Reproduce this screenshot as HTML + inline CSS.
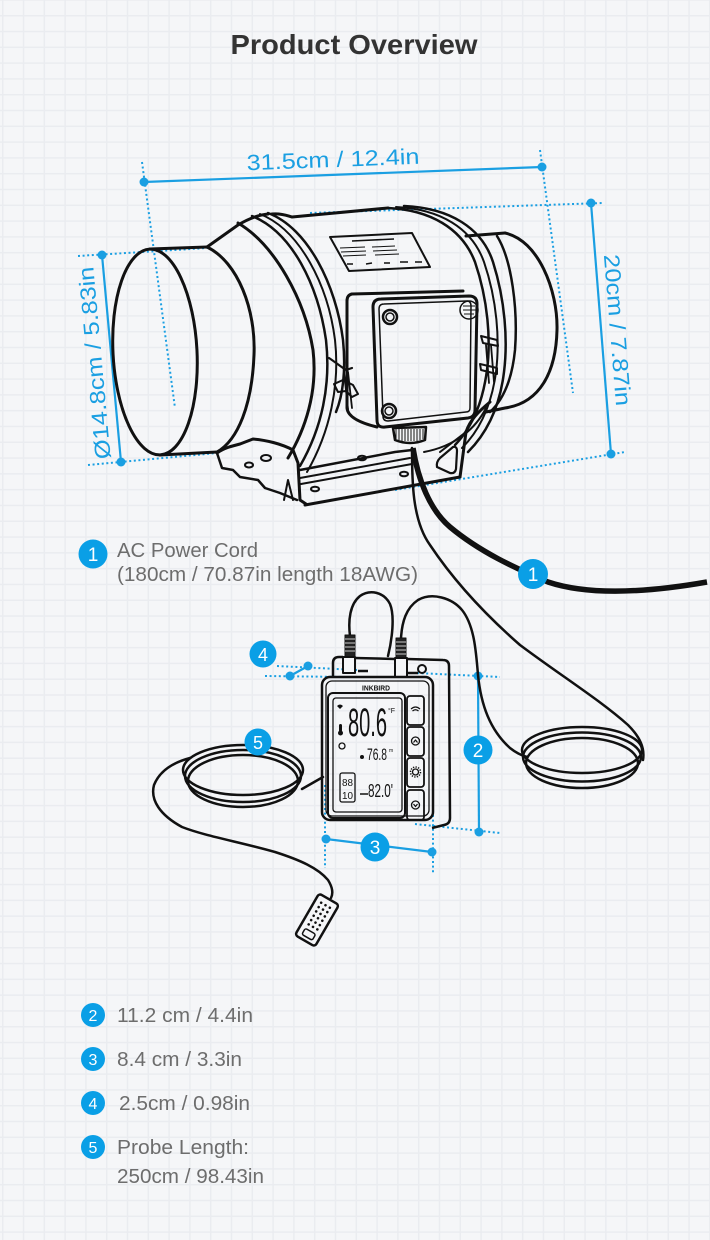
<!DOCTYPE html>
<html><head><meta charset="utf-8">
<style>
html,body{margin:0;padding:0;}
body{width:710px;height:1240px;overflow:hidden;position:relative;background-color:#f5f6f8;
background-image:linear-gradient(to right,#eaecf0 1.5px,transparent 1.5px),linear-gradient(to bottom,#eaecf0 1.5px,transparent 1.5px);
background-size:20.8px 15.8px;background-position:2px 15px;}
svg{position:absolute;left:0;top:0;}
</style></head><body>
<svg width="710" height="1240" viewBox="0 0 710 1240" xmlns="http://www.w3.org/2000/svg" font-family="'Liberation Sans', sans-serif">

<!-- Title -->
<text x="354" y="54" font-size="28" font-weight="bold" fill="#333" text-anchor="middle" textLength="247" lengthAdjust="spacingAndGlyphs">Product Overview</text>

<!-- ===== Fan dimension lines ===== -->
<g stroke="#1a9fe2" stroke-width="2" fill="none" stroke-dasharray="2 2.6">
  <path d="M142,162 L175,408"/>
  <path d="M540,150 L573,393"/>
  <path d="M310,213 L603,203"/>
  <path d="M395,490 L625,452"/>
  <path d="M78,256 L207,248"/>
  <path d="M88,465 L217,453"/>
</g>
<g stroke="#1a9fe2" stroke-width="2.2" fill="none">
  <path d="M144,182 L542,167"/>
  <path d="M591,203 L611,454"/>
  <path d="M102,255 L121,462"/>
</g>
<g fill="#1a9fe2">
  <circle cx="144" cy="182" r="4.5"/><circle cx="542" cy="167" r="4.5"/>
  <circle cx="591" cy="203" r="4.5"/><circle cx="611" cy="454" r="4.5"/>
  <circle cx="102" cy="255" r="4.5"/><circle cx="121" cy="462" r="4.5"/>
</g>
<g fill="#1a9fe2" font-size="22">
  <text x="333" y="167" transform="rotate(-2.15 333 160)" text-anchor="middle" textLength="173" lengthAdjust="spacingAndGlyphs">31.5cm / 12.4in</text>
  <text transform="translate(618,330) rotate(85.4)" y="8" text-anchor="middle" textLength="152" lengthAdjust="spacingAndGlyphs">20cm / 7.87in</text>
  <text transform="translate(94,363) rotate(-95.2)" y="8" text-anchor="middle" textLength="193" lengthAdjust="spacingAndGlyphs">Ø14.8cm / 5.83in</text>
</g>

<!-- ===== Fan drawing ===== -->
<g fill="none" stroke="#111" stroke-width="3" stroke-linejoin="round" stroke-linecap="round">
  <!-- inlet collar -->
  <ellipse cx="155" cy="352" rx="42" ry="103" transform="rotate(-3 155 352)"/>
  <path d="M150,249 L207,247"/>
  <path d="M160,455 L217,452"/>
  <path d="M207,247 C238,262 256,310 254,355 C252,405 238,440 217,452"/>
  <!-- body left section -->
  <path d="M207,247 L238,225 C248,219 258,215 268,214"/>
  <path d="M238,223 C275,245 305,300 313,350 C318,392 305,430 288,458"/>
  <!-- left band -->
  <path d="M252,216 C292,232 318,285 326,340 C331,385 322,428 300,466" stroke-width="2.5"/>
  <path d="M260,214 C300,230 328,285 335,340 C340,385 330,432 307,472" stroke-width="2"/>
  <path d="M268,213 C308,228 336,285 343,340 C346,370 343,395 336,412" stroke-width="2.5"/>
  <!-- top body line -->
  <path d="M272,214 C282,213 288,216 292,217 L388,208"/>
  <!-- right band -->
  <path d="M388,208 C430,210 462,228 475,262 C488,300 491,340 487,370 C483,400 474,425 455,445" stroke-width="2.5"/>
  <path d="M396,207 C440,209 472,228 484,262 C497,300 500,340 496,372 C492,402 482,428 462,448" stroke-width="2"/>
  <path d="M404,206 C450,208 482,228 493,262 C505,300 508,340 504,372 C500,405 488,432 468,452" stroke-width="2.5"/>
  <!-- right outlet collar -->
  <path d="M466,236 L505,233"/>
  <path d="M505,233 C538,240 558,290 557,330 C556,372 540,403 505,408 L486,412"/>
  <path d="M497,236 C512,260 518,310 515,350 C512,380 503,400 490,412" stroke-width="2.5"/>
  <!-- label plate -->
  <path d="M330,237 L412,233 L430,267 L349,271 Z" stroke-width="2"/>
  <!-- junction box back -->
  <path d="M352,294 L463,291"/>
  <path d="M352,294 Q347,295 347,301 L347,408 Q348,420 377,427"/>
  <!-- junction box cover -->
  <path d="M373,307 Q373,299 381,299 L469,296 Q477,296 477,304 L475,410 Q475,417 468,418 L385,427 Q377,428 377,420 Z" fill="none"/>
  <path d="M379,309 Q379,304 384,304 L467,301 Q471,301 471,306 L470,408 Q470,412 466,412 L388,421 Q383,421 383,416 Z" stroke-width="1.5"/>
  <circle cx="390" cy="317" r="7" stroke-width="2.5"/><circle cx="390" cy="317" r="4" stroke-width="1.5"/>
  <circle cx="389" cy="411" r="7" stroke-width="2.5"/><circle cx="389" cy="411" r="4" stroke-width="1.5"/>
  <circle cx="469" cy="310" r="9" stroke-width="1.5"/>
  <!-- gland -->
  <path d="M393,428 L426,427 L425,440 Q410,446 395,440 Z" stroke-width="2.5"/>
  <!-- left clamp -->
  <path d="M329,358 C335,362 340,366 346,370 L352,368" stroke-width="2.2"/>
  <path d="M344,372 L348,409 M348,372 L352,408" stroke-width="1.8"/>
  <path d="M334,384 L343,380 L353,385 L358,394 L352,397 L346,391 L338,392 Z" stroke-width="2"/>
  <!-- right clamp -->
  <path d="M481,336 L497,340 L498,346 L483,343 Z" stroke-width="2"/>
  <path d="M486,345 L489,383 M491,345 L494,382" stroke-width="1.8"/>
  <path d="M480,364 L497,368 L497,374 L481,370 Z" stroke-width="2"/>
  <!-- left foot -->
  <path d="M217,453 C224,448 232,446 240,444 L253,439 C266,440 282,444 293,450 L298,463 L300,500 L306,504"/>
  <path d="M217,453 L222,468 L233,470 L240,477 L258,480 L265,488 L280,493 L297,500" stroke-width="2.5"/>
  <path d="M284,500 L288,480 L293,500" stroke-width="2"/>
  <ellipse cx="266" cy="458" rx="5" ry="3" stroke-width="2"/>
  <ellipse cx="249" cy="465" rx="4" ry="2.5" stroke-width="2"/>
  <!-- rail -->
  <path d="M300,470 L395,452 L412,450" stroke-width="2.5"/>
  <path d="M300,478 L410,458" stroke-width="2"/>
  <path d="M301,484 L412,464" stroke-width="2"/>
  <path d="M305,505 L460,477" stroke-width="3"/>
  <ellipse cx="315" cy="489" rx="4" ry="2.3" stroke-width="2"/>
  <ellipse cx="362" cy="458" rx="4" ry="2.3" stroke-width="2"/>
  <ellipse cx="404" cy="474" rx="4" ry="2.3" stroke-width="2"/>
  <!-- right foot -->
  <path d="M460,477 L466,432 C470,420 478,412 490,402"/>
  <path d="M440,452 L466,432" stroke-width="2"/>
  <path d="M437,467 Q436,462 440,458 L453,447 Q457,446 457,451 L456,469 Q455,474 450,473 Z" stroke-width="2.2"/>
  <path d="M486,408 C476,428 456,446 424,452" stroke-width="2"/>
</g>
<!-- gland ribs & plate text -->
<g stroke="#111" stroke-width="1" fill="none">
  <path d="M396,429 v10 M399,429 v11 M402,429 v12 M405,429 v12 M408,429 v12 M411,429 v12 M414,429 v12 M417,429 v12 M420,429 v11 M423,429 v10"/>
  <path d="M352,241 L394,239" stroke-width="1.6"/>
  <path d="M340,248 L365,247 M372,247 L395,246 M341,252 L366,251 M373,251 L397,250 M343,256 L366,255 M375,255 L399,254"/>
  <path d="M347,264 L353,264 M366,264 L372,263 M384,263 L390,263 M400,262 L408,262 M415,262 L422,262" stroke-width="1.5"/>
  <path d="M463,306 L475,306 M463,310 L476,310 M464,314 L474,314"/>
</g>

<!-- ===== Fan cables ===== -->
<g fill="none" stroke="#111" stroke-linecap="round">
  <path d="M412,448 C412,480 412,520 430,545 C450,575 480,610 520,645 C560,675 600,700 628,725 C640,737 645,748 643,760" stroke-width="2.5"/>
  <path d="M413,448 C418,480 430,510 450,527 C480,552 515,568 548,582 C590,596 650,592 707,582" stroke-width="5.5" stroke-linecap="butt"/>
</g>

<!-- ===== Controller dims ===== -->
<g stroke="#1a9fe2" stroke-width="2" fill="none" stroke-dasharray="2 2.6">
  <path d="M277,666 L357,670"/>
  <path d="M265,676 L347,677"/>
  <path d="M417,673 L500,677"/>
  <path d="M415,824 L500,833"/>
  <path d="M325,785 L325,868"/>
  <path d="M433,792 L433,873"/>
</g>
<g stroke="#1a9fe2" stroke-width="2.2" fill="none">
  <path d="M290,676 L308,666"/>
  <path d="M478,676 L479,832"/>
  <path d="M326,839 L432,852"/>
</g>
<g fill="#1a9fe2">
  <circle cx="290" cy="676" r="4.5"/><circle cx="308" cy="666" r="4.5"/>
  <circle cx="478" cy="676" r="4.5"/><circle cx="479" cy="832" r="4.5"/>
  <circle cx="326" cy="839" r="4.5"/><circle cx="432" cy="852" r="4.5"/>
</g>

<!-- ===== Controller cables & coils ===== -->
<g fill="none" stroke="#111" stroke-width="2.5" stroke-linecap="round">
  <path d="M350,636 C348,620 350,604 360,596 C370,589 384,592 390,604 C395,616 392,640 388,656"/>
  <path d="M401,638 C402,622 406,608 418,600 C432,592 452,598 462,610 C474,625 476,650 478,675 C481,705 490,730 510,748 C515,752 520,755 527,757"/>
  <ellipse cx="582" cy="750" rx="60" ry="23"/>
  <ellipse cx="582" cy="757" rx="59" ry="24.5"/>
  <ellipse cx="582" cy="763" rx="56" ry="25"/>
  <ellipse cx="243" cy="770" rx="60" ry="25"/>
  <ellipse cx="243" cy="776" rx="58" ry="26"/>
  <ellipse cx="243" cy="781" rx="55" ry="26"/>
  <path d="M323,777 C316,781 309,785 302,789"/>
  <path d="M190,758 C175,762 160,770 154,785 C150,800 160,815 182,827 C205,836 240,842 275,852 C300,860 318,868 328,880 C333,888 333,894 331,898"/>
</g>
<!-- probe -->
<g transform="translate(317,920) rotate(30)" stroke="#111" fill="#f5f6f8">
  <rect x="-11.5" y="-24" width="23" height="48" rx="3" stroke-width="2.5"/>
  <g fill="#111" stroke="none">
    <circle cx="-5" cy="-17" r="1.3"/><circle cx="0" cy="-17" r="1.3"/><circle cx="5" cy="-17" r="1.3"/>
    <circle cx="-5" cy="-12" r="1.3"/><circle cx="0" cy="-12" r="1.3"/><circle cx="5" cy="-12" r="1.3"/>
    <circle cx="-5" cy="-7" r="1.3"/><circle cx="0" cy="-7" r="1.3"/><circle cx="5" cy="-7" r="1.3"/>
    <circle cx="-5" cy="-2" r="1.3"/><circle cx="0" cy="-2" r="1.3"/><circle cx="5" cy="-2" r="1.3"/>
    <circle cx="-5" cy="3" r="1.3"/><circle cx="0" cy="3" r="1.3"/><circle cx="5" cy="3" r="1.3"/>
    <circle cx="-5" cy="8" r="1.3"/><circle cx="0" cy="8" r="1.3"/><circle cx="5" cy="8" r="1.3"/>
  </g>
  <rect x="-6" y="13" width="12" height="7" rx="2" stroke-width="1.5" fill="none"/>
</g>

<!-- ===== Controller device ===== -->
<g stroke="#111" fill="none" stroke-linejoin="round">
  <rect x="345" y="635" width="10" height="22" fill="#222" stroke-width="1"/>
  <path d="M345,639 h10 M345,643 h10 M345,647 h10 M345,651 h10" stroke="#aaa" stroke-width="1.2"/>
  <rect x="343" y="657" width="12" height="16" fill="#f5f6f8" stroke-width="2"/>
  <rect x="396" y="638" width="10" height="20" fill="#222" stroke-width="1"/>
  <path d="M396,642 h10 M396,646 h10 M396,650 h10 M396,654 h10" stroke="#aaa" stroke-width="1.2"/>
  <rect x="395" y="658" width="12" height="19" fill="#f5f6f8" stroke-width="2"/>
  <path d="M333,677 L333,663 Q333,657 339,657 L343,657 M355,658 L395,659 M407,659 L443,660 Q449,660 449,666 L450,818 Q450,824 444,825 L432,828" stroke-width="2.5"/>
  <circle cx="422" cy="669" r="4" stroke-width="2"/>
  <path d="M358,671 h10 M408,673 h10" stroke-width="2.5"/>
  <rect x="322" y="677" width="111" height="143" rx="8" stroke-width="2.5"/>
  <rect x="326" y="681" width="103" height="135" rx="6" stroke-width="1.3"/>
  <rect x="328" y="693" width="77" height="125" rx="5" stroke-width="2"/>
  <rect x="333" y="698" width="69" height="114" rx="3" stroke-width="1.3"/>
  <rect x="407" y="696" width="17" height="29" rx="3" stroke-width="1.8"/>
  <rect x="407" y="727" width="17" height="29" rx="3" stroke-width="1.8"/>
  <rect x="407" y="758" width="17" height="29" rx="3" stroke-width="1.8"/>
  <rect x="407" y="790" width="17" height="30" rx="3" stroke-width="1.8"/>
  <path d="M411,709 Q415.5,705 420,709 M412.5,711 Q415.5,708.5 418.5,711" stroke-width="1.2"/>
  <circle cx="415.5" cy="741" r="4" stroke-width="1.3"/><path d="M413.5,742.5 L415.5,740 L417.5,742.5" stroke-width="1.2"/>
  <circle cx="415.5" cy="772" r="3" stroke-width="1.3"/><circle cx="415.5" cy="772" r="5" stroke-width="1.5" stroke-dasharray="1.3 1.3"/>
  <circle cx="415.5" cy="805" r="4" stroke-width="1.3"/><path d="M413.5,804 L415.5,806.5 L417.5,804" stroke-width="1.2"/>
  <rect x="340" y="773" width="15" height="29" rx="2" stroke-width="1.3"/>
  <path d="M360,794 h8" stroke-width="1.5"/>
</g>
<g fill="#111" font-family="'Liberation Sans', sans-serif">
  <text x="376" y="690.5" font-size="7.5" font-weight="bold" text-anchor="middle" textLength="28" lengthAdjust="spacingAndGlyphs">INKBIRD</text>
  <text x="348" y="736" font-size="40" textLength="39" lengthAdjust="spacingAndGlyphs">80.6</text>
  <text x="388" y="713" font-size="7">°F</text>
  <text x="367" y="760" font-size="17" textLength="20" lengthAdjust="spacingAndGlyphs">76.8</text>
  <text x="389" y="752" font-size="5">m</text>
  <text x="368" y="797" font-size="18" textLength="25" lengthAdjust="spacingAndGlyphs">82.0'</text>
  <text x="342" y="786" font-size="10" textLength="11" lengthAdjust="spacingAndGlyphs">88</text>
  <text x="342" y="799" font-size="10" textLength="11" lengthAdjust="spacingAndGlyphs">10</text>
  <path d="M337,706 Q340,703 343,706 L340,709 Z"/>
  <rect x="339" y="724" width="3" height="8" rx="1.5"/>
  <circle cx="340.5" cy="733" r="2.5"/>
  <circle cx="342" cy="746" r="3" fill="none" stroke="#111" stroke-width="1.3"/>
  <circle cx="362" cy="757" r="2"/>
</g>

<!-- ===== Badges ===== -->
<g font-family="'Liberation Sans', sans-serif" text-anchor="middle" fill="#fff">
  <circle cx="93" cy="554" r="14.5" fill="#0a9fe6"/><text x="93" y="561" font-size="19" fill="#fff">1</text>
  <circle cx="533" cy="574" r="15" fill="#0a9fe6"/><text x="533" y="581" font-size="19" fill="#fff">1</text>
  <circle cx="478" cy="750" r="14.5" fill="#0a9fe6"/><text x="478" y="757" font-size="19" fill="#fff">2</text>
  <circle cx="375" cy="847" r="14.5" fill="#0a9fe6"/><text x="375" y="854" font-size="19" fill="#fff">3</text>
  <circle cx="263" cy="654" r="13.5" fill="#0a9fe6"/><text x="263" y="661" font-size="18" fill="#fff">4</text>
  <circle cx="258" cy="742" r="13.5" fill="#0a9fe6"/><text x="258" y="749" font-size="18" fill="#fff">5</text>

  <circle cx="93" cy="1015" r="12" fill="#0a9fe6"/><text x="93" y="1021" font-size="16" fill="#fff">2</text>
  <circle cx="93" cy="1059" r="12" fill="#0a9fe6"/><text x="93" y="1065" font-size="16" fill="#fff">3</text>
  <circle cx="93" cy="1103" r="12" fill="#0a9fe6"/><text x="93" y="1109" font-size="16" fill="#fff">4</text>
  <circle cx="93" cy="1147" r="12" fill="#0a9fe6"/><text x="93" y="1153" font-size="16" fill="#fff">5</text>
</g>

<!-- ===== Legend text ===== -->
<g fill="#6d6d6d" font-size="20" font-family="'Liberation Sans', sans-serif">
  <text x="117" y="557" textLength="141" lengthAdjust="spacingAndGlyphs">AC Power Cord</text>
  <text x="117" y="581" textLength="301" lengthAdjust="spacingAndGlyphs">(180cm / 70.87in length 18AWG)</text>
  <text x="117" y="1022" textLength="136" lengthAdjust="spacingAndGlyphs">11.2 cm / 4.4in</text>
  <text x="117" y="1066" textLength="125" lengthAdjust="spacingAndGlyphs">8.4 cm / 3.3in</text>
  <text x="119" y="1110" textLength="131" lengthAdjust="spacingAndGlyphs">2.5cm / 0.98in</text>
  <text x="117" y="1154" textLength="132" lengthAdjust="spacingAndGlyphs">Probe Length:</text>
  <text x="117" y="1183" textLength="147" lengthAdjust="spacingAndGlyphs">250cm / 98.43in</text>
</g>
</svg>
</body></html>
